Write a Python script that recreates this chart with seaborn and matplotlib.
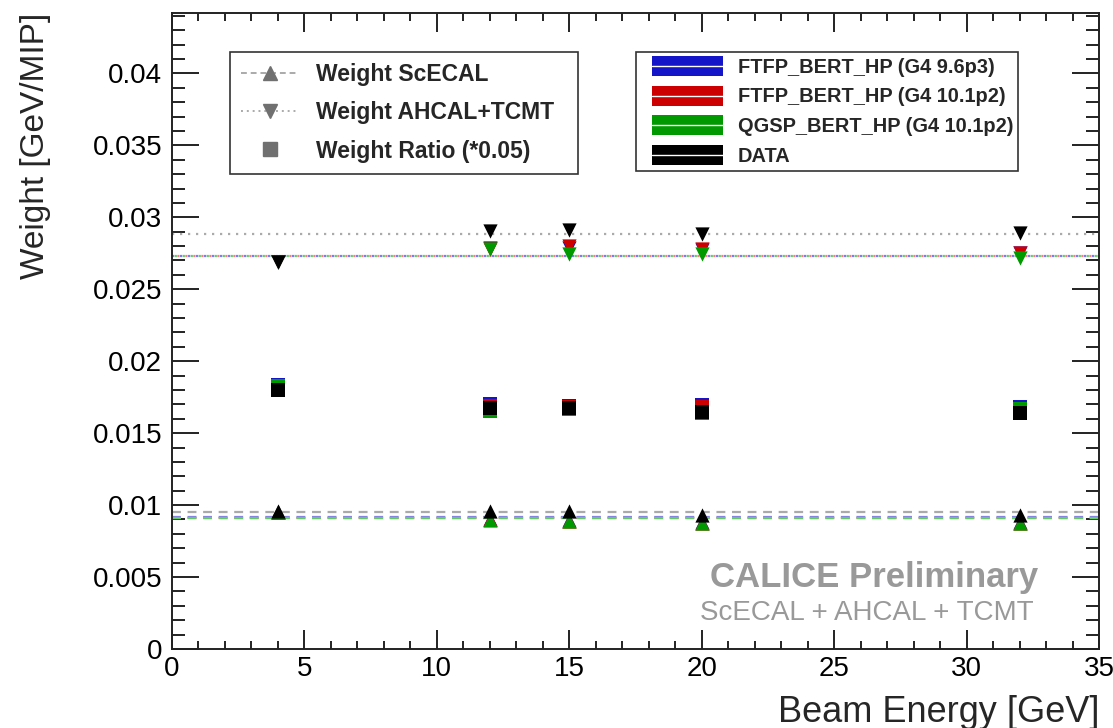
import numpy as np
import pandas as pd
import seaborn as sns
import matplotlib.pyplot as plt
from matplotlib.lines import Line2D
from matplotlib.patches import Patch, Rectangle
from matplotlib.legend_handler import HandlerBase
from matplotlib.ticker import MultipleLocator

sns.set_theme(style="ticks")
plt.rcParams['font.family'] = ['Liberation Sans', 'DejaVu Sans']

energies = [4, 12, 15, 20, 32]
series_names = ["FTFP_BERT_HP (G4 9.6p3)", "FTFP_BERT_HP (G4 10.1p2)",
                "QGSP_BERT_HP (G4 10.1p2)", "DATA"]
series_colors = ["#1414c8", "#cc0000", "#009900", "#000000"]
line_colors = ["#7a7aff", "#ff7a7a", "#66cc66", "#aaaaaa"]

# Weight ScECAL
scecal_blue = [0.00955, 0.00905, 0.00895, 0.00880, 0.00880]
scecal_red = [0.00955, 0.00900, 0.00893, 0.00878, 0.00878]
scecal_green = [0.00955, 0.00898, 0.00891, 0.00876, 0.00876]
scecal_data = [0.00957, 0.00962, 0.00962, 0.00934, 0.00934]

# Weight AHCAL+TCMT
ahcal_blue = [0.02690, 0.02785, 0.02790, 0.02775, 0.02755]
ahcal_red = [0.02690, 0.02783, 0.02800, 0.02780, 0.02753]
ahcal_green = [0.02690, 0.02780, 0.02748, 0.02744, 0.02720]
ahcal_data = [0.02691, 0.02906, 0.02910, 0.02887, 0.02892]

# Weight ratio (*0.05)
ratio_blue = [0.01835, 0.01705, 0.01690, 0.01695, 0.01680]
ratio_red = [0.01830, 0.01690, 0.01685, 0.01685, 0.01650]
ratio_green = [0.01830, 0.01655, 0.01665, 0.01640, 0.01665]
ratio_data = [0.01803, 0.01678, 0.01673, 0.01650, 0.01639]

# fitted constant lines
scecal_fit = [0.00915, 0.00912, 0.00910, 0.00952]
ahcal_fit = [0.02732, 0.02734, 0.02730, 0.02887]

scecal = [scecal_blue, scecal_red, scecal_green, scecal_data]
ahcal = [ahcal_blue, ahcal_red, ahcal_green, ahcal_data]
ratio = [ratio_blue, ratio_red, ratio_green, ratio_data]


class BandHandler(HandlerBase):
    """ROOT-like filled band with a thin white line through the middle."""
    def create_artists(self, legend, orig_handle, xdescent, ydescent, width, height,
                       fontsize, trans):
        pad = 8.0
        band_h = 14.4
        cy = -ydescent + height / 2.0
        r = Rectangle((-xdescent + pad, cy - band_h / 2.0), width - pad, band_h,
                      facecolor=orig_handle.get_facecolor(), edgecolor="none",
                      transform=trans)
        ln = Line2D([-xdescent + pad, -xdescent + width], [cy, cy], color="white",
                    lw=1.0, transform=trans)
        return [r, ln]


fig = plt.figure(figsize=(11.13, 7.28), dpi=100)
ax = fig.add_axes([172 / 1113, 1 - 649 / 728, 927 / 1113, 636 / 728])

dot_offsets = [0.0, 1.2, 2.4, 0.0]
for i in range(4):
    ax.axhline(scecal_fit[i], color=line_colors[i], ls=(0, (4, 3)), lw=1.6, zorder=1)
    ax.axhline(ahcal_fit[i], color=line_colors[i], ls=(dot_offsets[i], (1, 2.6)),
               lw=1.6, zorder=1)

for i in range(4):
    df = pd.DataFrame({"E": energies, "sc": scecal[i], "ah": ahcal[i], "r": ratio[i]})
    sns.scatterplot(data=df, x="E", y="sc", marker="^", s=105, color=series_colors[i],
                    edgecolor=series_colors[i], linewidth=0, ax=ax, zorder=3 + i)
    sns.scatterplot(data=df, x="E", y="ah", marker="v", s=105, color=series_colors[i],
                    edgecolor=series_colors[i], linewidth=0, ax=ax, zorder=3 + i)
    sns.scatterplot(data=df, x="E", y="r", marker="s", s=90, color=series_colors[i],
                    edgecolor=series_colors[i], linewidth=0, ax=ax, zorder=3 + i)

ax.set_xlim(0, 35)
ax.set_ylim(0, 0.0442)
ax.xaxis.set_major_locator(MultipleLocator(5))
ax.xaxis.set_minor_locator(MultipleLocator(1))
ax.set_yticks([0, 0.005, 0.01, 0.015, 0.02, 0.025, 0.03, 0.035, 0.04])
ax.set_yticklabels(["0", "0.005", "0.01", "0.015", "0.02", "0.025", "0.03", "0.035", "0.04"])
ax.yaxis.set_minor_locator(MultipleLocator(0.001))
ax.tick_params(which="both", direction="in", top=True, right=True, width=1.4,
               colors="#222222", labelcolor="black")
ax.tick_params(axis="x", which="major", length=13.5, labelsize=20, pad=5)
ax.tick_params(axis="x", which="minor", length=6)
ax.tick_params(axis="y", which="major", length=19.5, labelsize=20, pad=7)
ax.tick_params(axis="y", which="minor", length=9.5)
for sp in ax.spines.values():
    sp.set_linewidth(1.4)
    sp.set_color("#222222")

ax.set_xlabel("Beam Energy [GeV]", fontsize=26, ha="right")
ax.xaxis.set_label_coords(1.0, -0.072)
ax.set_ylabel("Weight [GeV/MIP]", fontsize=24, ha="right")
ax.yaxis.set_label_coords(-0.131, 1.0)

gray = "#707070"
h1 = [Line2D([], [], color="#aaaaaa", ls=(0, (3, 2)), lw=1.4, marker="^", ms=10,
             mfc=gray, mec=gray),
      Line2D([], [], color="#aaaaaa", ls=(0, (1, 2)), lw=1.4, marker="v", ms=10,
             mfc=gray, mec=gray),
      Line2D([], [], color="none", marker="s", ms=10, mfc=gray, mec=gray)]
leg1 = ax.legend(h1, ["Weight ScECAL", "Weight AHCAL+TCMT  ", "Weight Ratio (*0.05)"],
                 loc="upper left", bbox_to_anchor=(0.0626, 0.939), frameon=True,
                 fancybox=False, edgecolor="black", prop={"weight": "bold", "size": 16.5},
                 handlelength=2.45, labelspacing=0.66, borderpad=0.5, handletextpad=0.8,
                 borderaxespad=0)
leg1.get_frame().set_linewidth(1.2)
ax.add_artist(leg1)

h2 = [Patch(facecolor=c, edgecolor="none") for c in series_colors]
leg2 = ax.legend(h2, series_names, loc="upper left", bbox_to_anchor=(0.5005, 0.939),
                 frameon=True, fancybox=False, edgecolor="black",
                 handler_map={Patch: BandHandler()},
                 prop={"weight": "bold", "size": 14.4}, handlelength=4.1, handleheight=1.0,
                 labelspacing=0.5, borderpad=0.25, handletextpad=0.75, borderaxespad=0)
leg2.get_frame().set_linewidth(1.2)

ax.text(0.935, (649 - 577) / 636, "CALICE Preliminary", transform=ax.transAxes, ha="right",
        va="center", fontsize=25, fontweight="bold", color="#999999")
ax.text(0.9295, (649 - 613) / 636, "ScECAL + AHCAL + TCMT", transform=ax.transAxes,
        ha="right", va="center", fontsize=20, color="#999999")

fig.savefig("out.png", dpi=100)
